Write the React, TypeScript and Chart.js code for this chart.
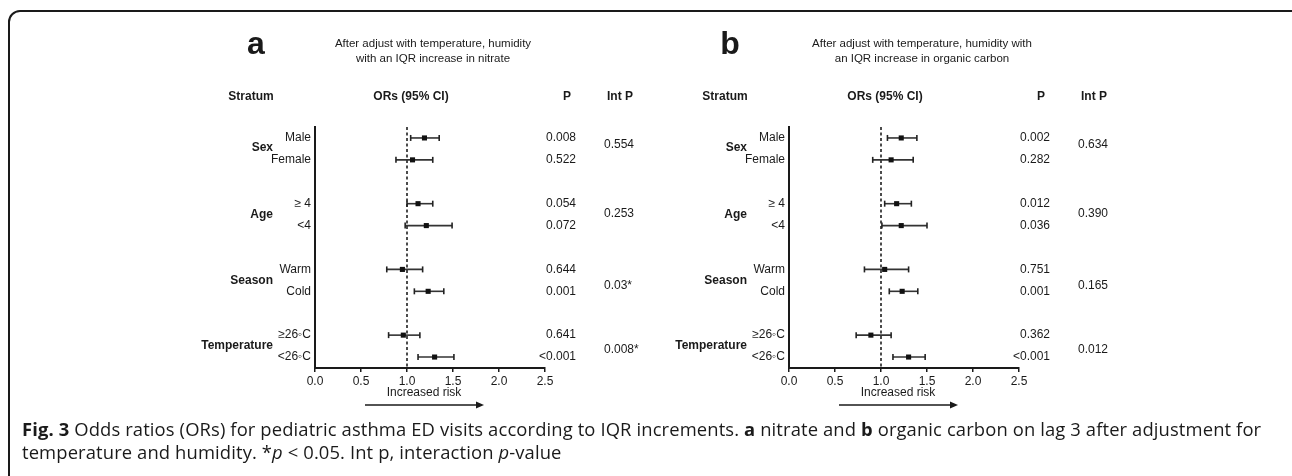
import React, { useEffect, useRef } from 'react';
import { Chart, registerables } from 'chart.js';

Chart.register(...registerables);

// ---------- data ----------
const strata = ['Sex', 'Age', 'Season', 'Temperature'];
const subgroups = ['Male', 'Female', '≥ 4', '<4', 'Warm', 'Cold', '≥26◦C', '<26◦C'];
const rowPos = [0, 1, 3, 4, 6, 7, 9, 10];
const groupPos = [0.45, 3.5, 6.5, 9.5];
const intPos = [0.3, 3.45, 6.75, 9.65];
const xTicks = [0, 0.5, 1, 1.5, 2, 2.5];

const orA = [1.19, 1.06, 1.12, 1.21, 0.95, 1.23, 0.96, 1.3];
const loA = [1.04, 0.88, 1.0, 0.98, 0.78, 1.08, 0.8, 1.12];
const hiA = [1.35, 1.28, 1.28, 1.49, 1.17, 1.4, 1.14, 1.51];
const pA = ['0.008', '0.522', '0.054', '0.072', '0.644', '0.001', '0.641', '<0.001'];
const intA = ['0.554', '0.253', '0.03*', '0.008*'];

const orB = [1.22, 1.11, 1.17, 1.22, 1.04, 1.23, 0.89, 1.3];
const loB = [1.07, 0.91, 1.04, 1.01, 0.82, 1.09, 0.73, 1.13];
const hiB = [1.39, 1.35, 1.33, 1.5, 1.3, 1.4, 1.11, 1.48];
const pB = ['0.002', '0.282', '0.012', '0.036', '0.751', '0.001', '0.362', '<0.001'];
const intB = ['0.634', '0.390', '0.165', '0.012'];

const headers = ['Stratum', 'ORs (95% CI)', 'P', 'Int P'];
const axisNote = 'Increased risk';

type Panel = {
  letter: string;
  sub: string[];
  subX: number;
  left: number;
  or: number[];
  lo: number[];
  hi: number[];
  p: string[];
  intP: string[];
};

const panels: Panel[] = [
  {
    letter: 'a',
    sub: ['After adjust with temperature, humidity', 'with an IQR increase in nitrate'],
    subX: 433,
    left: 0,
    or: orA, lo: loA, hi: hiA, p: pA, intP: intA,
  },
  {
    letter: 'b',
    sub: ['After adjust with temperature, humidity with', 'an IQR increase in organic carbon'],
    subX: 448,
    left: 474,
    or: orB, lo: loB, hi: hiB, p: pB, intP: intB,
  },
];

const FONT = '"Liberation Sans", Arial, Helvetica, sans-serif';
const CW = 660;
const CH = 476;

function ForestPanel({ panel }: { panel: Panel }) {
  const ref = useRef<HTMLCanvasElement>(null);
  useEffect(() => {
    const canvas = ref.current;
    if (!canvas) return;

    const textPlugin = {
      id: 'forestText',
      afterDraw(chart: any) {
        const c = chart.ctx as CanvasRenderingContext2D;
        const ys = chart.scales.y;
        c.save();
        c.fillStyle = '#1a1a1a';
        c.textBaseline = 'middle';
        // panel letter
        c.font = `bold 32px ${FONT}`;
        c.textAlign = 'center';
        c.fillText(panel.letter, 256, 45);
        // subtitle
        c.font = `11.5px ${FONT}`;
        c.fillText(panel.sub[0], panel.subX, 44);
        c.fillText(panel.sub[1], panel.subX, 59);
        // headers
        c.font = `bold 12px ${FONT}`;
        c.fillText(headers[0], 251, 97);
        c.fillText(headers[1], 411, 97);
        c.fillText(headers[2], 567, 97);
        c.fillText(headers[3], 620, 97);
        // strata
        c.textAlign = 'right';
        strata.forEach((s, k) => {
          c.fillText(s, 273, ys.getPixelForValue(groupPos[k]));
        });
        // subgroups and p values
        c.font = `12px ${FONT}`;
        subgroups.forEach((s, i) => {
          const y = ys.getPixelForValue(rowPos[i]);
          c.textAlign = 'right';
          c.fillText(s, 311, y);
          c.fillText(panel.p[i], 576, y);
        });
        c.textAlign = 'left';
        panel.intP.forEach((s, k) => {
          c.fillText(s, 604, ys.getPixelForValue(intPos[k]));
        });
        // increased risk note + arrow
        c.textAlign = 'center';
        c.fillText(axisNote, 424, 393);
        c.strokeStyle = '#1a1a1a';
        c.lineWidth = 1.6;
        c.beginPath();
        c.moveTo(365, 405);
        c.lineTo(477, 405);
        c.stroke();
        c.beginPath();
        c.moveTo(476, 401.5);
        c.lineTo(484, 405);
        c.lineTo(476, 408.5);
        c.closePath();
        c.fill();
        c.restore();
      },
    };

    const whiskers = rowPos.map((r, i) => ({
      type: 'line' as const,
      data: [
        { x: panel.lo[i], y: r },
        { x: panel.hi[i], y: r },
      ],
      borderColor: '#333',
      borderWidth: 1.6,
      pointStyle: 'line' as const,
      pointRotation: 90,
      pointRadius: 3,
      pointHoverRadius: 3,
      pointBorderWidth: 1.6,
      pointBorderColor: '#222',
      order: 2,
    }));
    const squares = {
      type: 'scatter' as const,
      data: rowPos.map((r, i) => ({ x: panel.or[i], y: r })),
      pointStyle: 'rect' as const,
      pointRadius: 3.6,
      pointHoverRadius: 3.6,
      backgroundColor: '#111',
      borderColor: '#111',
      borderWidth: 0,
      order: 1,
    };
    const refLine = {
      type: 'line' as const,
      data: [
        { x: 1, y: -0.5 },
        { x: 1, y: 10.5 },
      ],
      borderColor: '#111',
      borderWidth: 1.5,
      borderDash: [3, 2.5],
      pointRadius: 0,
      pointHoverRadius: 0,
      order: 3,
    };

    const chart = new Chart(canvas, {
      type: 'line',
      data: { datasets: [squares, ...whiskers, refLine] as any },
      options: {
        responsive: false,
        animation: false,
        events: [],
        layout: { padding: { left: 315, right: CW - 545, top: 127, bottom: CH - 368 - 40 } },
        plugins: { legend: { display: false }, tooltip: { enabled: false } },
        scales: {
          x: {
            type: 'linear',
            min: 0,
            max: 2.5,
            afterBuildTicks: (s: any) => {
              s.ticks = xTicks.map((v) => ({ value: v }));
            },
            afterFit: (s: any) => {
              s.height = 40;
            },
            ticks: {
              padding: 2,
              color: '#1a1a1a',
              font: { family: FONT, size: 12 },
              callback: (v: any) => Number(v).toFixed(1),
            },
            grid: { display: true, drawOnChartArea: false, drawTicks: true, tickLength: 4, color: '#1a1a1a', lineWidth: 1.5 },
            border: { display: true, color: '#1a1a1a', width: 2 },
          },
          y: {
            type: 'linear',
            min: -0.5,
            max: 10.5,
            reverse: true,
            afterFit: (s: any) => {
              s.width = 0;
            },
            ticks: { display: false },
            grid: { display: false },
            border: { display: true, color: '#1a1a1a', width: 2 },
          },
        },
      },
      plugins: [textPlugin],
    } as any);
    return () => chart.destroy();
  }, [panel]);

  return (
    <canvas
      ref={ref}
      width={CW}
      height={CH}
      style={{ position: 'absolute', left: panel.left, top: 0, width: CW, height: CH }}
    />
  );
}

export default function App() {
  return (
    <div
      style={{
        position: 'fixed',
        left: 0,
        top: 0,
        width: 1292,
        height: 476,
        overflow: 'hidden',
        background: '#fff',
      }}
    >
      <div
        style={{
          position: 'absolute',
          left: 8,
          top: 10,
          width: 1320,
          height: 520,
          border: '2px solid #1a1a1a',
          borderRadius: 12,
          boxSizing: 'border-box',
        }}
      />
      {panels.map((p) => (
        <ForestPanel key={p.letter} panel={p} />
      ))}
      <div
        style={{
          position: 'absolute',
          left: 22,
          top: 417,
          width: 1268,
          fontFamily: '"Open Sans", "Noto Sans", sans-serif',
          fontSize: 18.4,
          lineHeight: '23px',
          letterSpacing: '0.12px',
          color: '#1a1a1a',
          whiteSpace: 'normal',
        }}
      >
        <b>Fig. 3</b> Odds ratios (ORs) for pediatric asthma ED visits according to IQR increments. <b>a</b> nitrate
        and <b>b</b> organic carbon on lag 3 after adjustment for temperature and humidity. *<i>p</i> &lt; 0.05. Int
        p, interaction <i>p</i>-value
      </div>
    </div>
  );
}
